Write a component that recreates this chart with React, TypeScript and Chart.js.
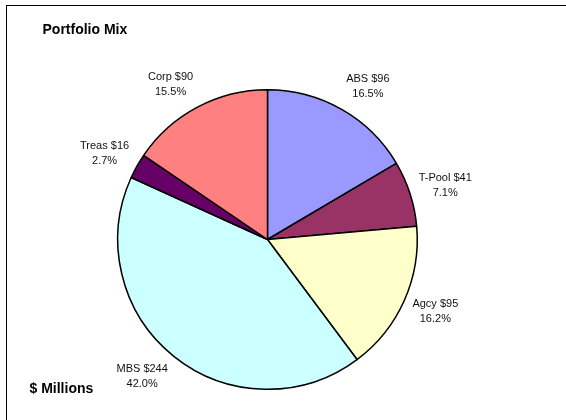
import React, { useEffect, useRef } from "react";
import { Chart, registerables } from "chart.js";

Chart.register(...registerables);

const categories = ["ABS", "T-Pool", "Agcy", "MBS", "Treas", "Corp"];
const amounts = [96, 41, 95, 244, 16, 90];
const percents = [16.5, 7.1, 16.2, 42.0, 2.7, 15.5];
const sliceColors = ["#9999FF", "#993366", "#FFFFCC", "#CCFFFF", "#660066", "#FF8080"];
const titleText = "Portfolio Mix";
const unitText = "$ Millions";

const FONT = "'Liberation Sans', Arial, Helvetica, sans-serif";

const clamp = (v: number) => Math.max(-1, Math.min(1, v));

const decorPlugin = {
  id: "decor",
  beforeDraw(chart: any) {
    const ctx = chart.ctx;
    ctx.save();
    ctx.fillStyle = "#ffffff";
    ctx.fillRect(0, 0, chart.width, chart.height);
    ctx.strokeStyle = "#000000";
    ctx.lineWidth = 1;
    ctx.strokeRect(6.5, 5.5, 640, 520);
    ctx.restore();
  },
  afterDatasetsDraw(chart: any) {
    const ctx = chart.ctx;
    const meta = chart.getDatasetMeta(0);
    ctx.save();
    ctx.fillStyle = "#111111";
    ctx.font = `11px ${FONT}`;
    ctx.textAlign = "center";
    ctx.textBaseline = "middle";
    const lineH = 15;
    const gap = 9;
    meta.data.forEach((arc: any, i: number) => {
      const { x, y, startAngle, endAngle, outerRadius } = arc.getProps(
        ["x", "y", "startAngle", "endAngle", "outerRadius"],
        true
      );
      const mid = (startAngle + endAngle) / 2;
      const ux = Math.cos(mid);
      const uy = Math.sin(mid);
      const l1 = `${categories[i]} $${amounts[i]}`;
      const l2 = `${percents[i].toFixed(1)}%`;
      const w = Math.max(ctx.measureText(l1).width, ctx.measureText(l2).width);
      const h = lineH * 2;
      const px = x + (outerRadius + gap) * ux;
      const py = y + (outerRadius + gap) * uy;
      const cx = px + (w / 2) * clamp(2.2 * ux);
      const cy = py + (h / 2) * clamp(1.15 * uy);
      ctx.fillText(l1, cx, cy - lineH / 2);
      ctx.fillText(l2, cx, cy + lineH / 2);
    });
    ctx.fillStyle = "#000000";
    ctx.font = `bold 14px ${FONT}`;
    ctx.textAlign = "left";
    ctx.fillText(titleText, 42.5, 30);
    ctx.fillText(unitText, 29.5, 389);
    ctx.restore();
  },
};

export default function App() {
  const ref = useRef<HTMLCanvasElement | null>(null);
  useEffect(() => {
    if (!ref.current) return;
    const chart = new Chart(ref.current, {
      type: "pie",
      data: {
        labels: categories,
        datasets: [
          {
            data: percents,
            backgroundColor: sliceColors,
            borderColor: "#000000",
            borderWidth: 1.5,
          },
        ],
      },
      options: {
        responsive: false,
        animation: false,
        events: [],
        layout: { padding: { left: 117, right: 148, top: 89, bottom: 30 } },
        plugins: {
          legend: { display: false },
          tooltip: { enabled: false },
          title: { display: false },
        },
      },
      plugins: [decorPlugin],
    });
    return () => chart.destroy();
  }, []);
  return (
    <div style={{ position: "fixed", left: 0, top: 0, width: 566, height: 420, background: "#fff" }}>
      <canvas ref={ref} width={566} height={420} />
    </div>
  );
}
